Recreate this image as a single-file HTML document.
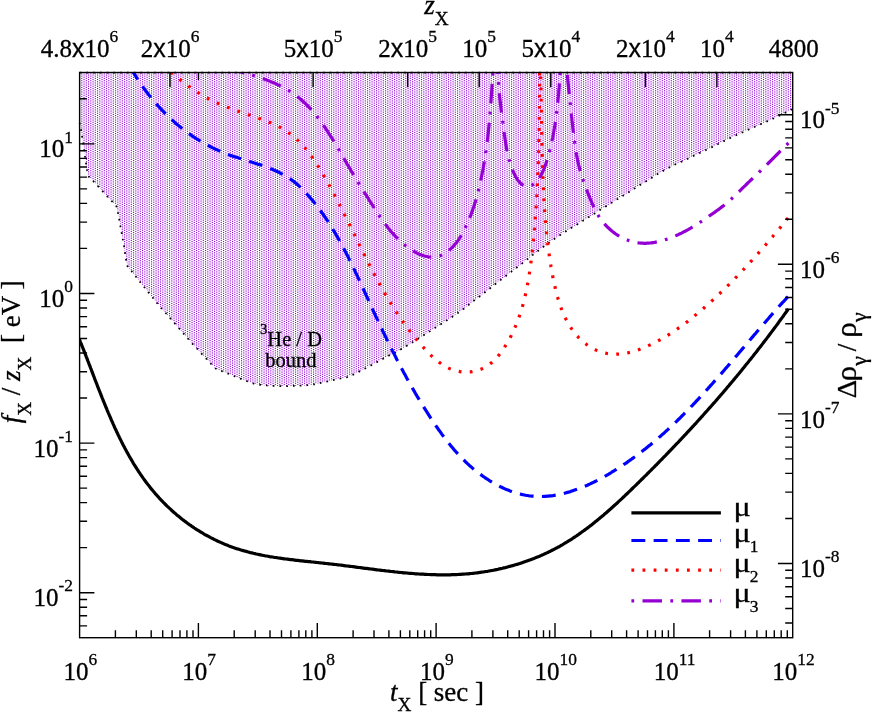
<!DOCTYPE html>
<html><head><meta charset="utf-8"><title>plot</title>
<style>html,body{margin:0;padding:0;background:#fff}svg{display:block;will-change:transform}text{font-family:"Liberation Serif",serif;fill:#000;stroke:#000;stroke-width:0.3px}.sa{font-family:"Liberation Sans",sans-serif}</style></head><body>
<svg width="872" height="714" viewBox="0 0 872 714">
<rect width="872" height="714" fill="#fff"/>
<defs><pattern id="pt" x="7" y="7" width="9" height="9" patternUnits="userSpaceOnUse">
<rect width="9" height="9" fill="#fff"/>
<rect x="0" y="0" width="1" height="1" fill="#9400d3"/>
<rect x="1" y="0" width="1" height="1" fill="#f2dffa"/>
<rect x="4" y="0" width="1" height="1" fill="#ca80e9"/>
<rect x="5" y="0" width="1" height="1" fill="#bc60e4"/>
<rect x="0" y="1" width="1" height="1" fill="#f2dffa"/>
<rect x="1" y="1" width="1" height="1" fill="#fdfbfe"/>
<rect x="2" y="1" width="1" height="1" fill="#b958e2"/>
<rect x="3" y="1" width="1" height="1" fill="#dcabf1"/>
<rect x="4" y="1" width="1" height="1" fill="#f8effc"/>
<rect x="5" y="1" width="1" height="1" fill="#f7ebfc"/>
<rect x="6" y="1" width="1" height="1" fill="#e8c7f5"/>
<rect x="7" y="1" width="1" height="1" fill="#ad3cdd"/>
<rect x="0" y="2" width="1" height="1" fill="#af40de"/>
<rect x="1" y="2" width="1" height="1" fill="#f5e7fb"/>
<rect x="2" y="2" width="1" height="1" fill="#ebcff7"/>
<rect x="3" y="2" width="1" height="1" fill="#f5e7fb"/>
<rect x="4" y="2" width="1" height="1" fill="#d79fee"/>
<rect x="5" y="2" width="1" height="1" fill="#cd87ea"/>
<rect x="6" y="2" width="1" height="1" fill="#f8effc"/>
<rect x="7" y="2" width="1" height="1" fill="#e8c7f5"/>
<rect x="0" y="3" width="1" height="1" fill="#d79fee"/>
<rect x="1" y="3" width="1" height="1" fill="#faf3fd"/>
<rect x="2" y="3" width="1" height="1" fill="#cd87ea"/>
<rect x="3" y="3" width="1" height="1" fill="#e6c3f5"/>
<rect x="4" y="3" width="1" height="1" fill="#ebcff7"/>
<rect x="5" y="3" width="1" height="1" fill="#e6c3f5"/>
<rect x="6" y="3" width="1" height="1" fill="#eed7f8"/>
<rect x="7" y="3" width="1" height="1" fill="#c474e7"/>
<rect x="0" y="4" width="1" height="1" fill="#ca80e9"/>
<rect x="1" y="4" width="1" height="1" fill="#f8effc"/>
<rect x="2" y="4" width="1" height="1" fill="#d79fee"/>
<rect x="3" y="4" width="1" height="1" fill="#ebcff7"/>
<rect x="4" y="4" width="1" height="1" fill="#e4bff4"/>
<rect x="5" y="4" width="1" height="1" fill="#deaff1"/>
<rect x="6" y="4" width="1" height="1" fill="#f2dffa"/>
<rect x="7" y="4" width="1" height="1" fill="#d08fec"/>
<rect x="0" y="5" width="1" height="1" fill="#bc60e4"/>
<rect x="1" y="5" width="1" height="1" fill="#f7ebfc"/>
<rect x="2" y="5" width="1" height="1" fill="#e1b7f3"/>
<rect x="3" y="5" width="1" height="1" fill="#f0dbf9"/>
<rect x="4" y="5" width="1" height="1" fill="#deaff1"/>
<rect x="5" y="5" width="1" height="1" fill="#d59bee"/>
<rect x="6" y="5" width="1" height="1" fill="#f5e7fb"/>
<rect x="7" y="5" width="1" height="1" fill="#dcabf1"/>
<rect x="0" y="6" width="1" height="1" fill="#e4bff4"/>
<rect x="1" y="6" width="1" height="1" fill="#fcf7fe"/>
<rect x="2" y="6" width="1" height="1" fill="#c370e6"/>
<rect x="3" y="6" width="1" height="1" fill="#e1b7f3"/>
<rect x="4" y="6" width="1" height="1" fill="#f2dffa"/>
<rect x="5" y="6" width="1" height="1" fill="#eed7f8"/>
<rect x="6" y="6" width="1" height="1" fill="#ebcff7"/>
<rect x="7" y="6" width="1" height="1" fill="#b958e2"/>
<rect x="0" y="7" width="1" height="1" fill="#a120d8"/>
<rect x="1" y="7" width="1" height="1" fill="#f3e3fa"/>
<rect x="2" y="7" width="1" height="1" fill="#f5e7fb"/>
<rect x="3" y="7" width="1" height="1" fill="#faf3fd"/>
<rect x="4" y="7" width="1" height="1" fill="#d08fec"/>
<rect x="5" y="7" width="1" height="1" fill="#c474e7"/>
<rect x="6" y="7" width="1" height="1" fill="#fcf7fe"/>
<rect x="7" y="7" width="1" height="1" fill="#f3e3fa"/>
<rect x="2" y="8" width="1" height="1" fill="#af40de"/>
<rect x="3" y="8" width="1" height="1" fill="#d79fee"/>
<rect x="6" y="8" width="1" height="1" fill="#e4bff4"/>
<rect x="7" y="8" width="1" height="1" fill="#a120d8"/>
</pattern>
<clipPath id="cp"><rect x="79.6" y="72.5" width="713.1" height="565.2"/></clipPath></defs>
<path d="M79.6,72.5 L79.6,123.0 L81.0,129.8 L82.1,136.7 L83.2,143.6 L84.2,150.3 L85.1,157.0 L86.1,163.8 L87.1,170.5 L89.0,176.8 L93.7,181.6 L98.1,186.3 L102.7,191.4 L107.3,196.4 L112.0,201.4 L116.4,206.2 L118.0,213.1 L119.3,219.7 L120.4,226.4 L121.7,233.0 L122.9,239.8 L124.1,246.3 L125.0,253.0 L126.1,259.8 L127.5,266.2 L131.8,271.5 L136.0,276.8 L140.1,282.0 L144.4,287.3 L148.6,292.6 L153.0,298.0 L157.1,303.1 L161.5,308.5 L166.1,313.5 L170.6,318.7 L175.0,323.7 L179.4,328.8 L183.8,333.8 L188.2,338.9 L192.6,343.9 L197.3,348.9 L202.0,354.2 L206.5,358.9 L211.1,363.9 L215.7,368.6 L222.0,371.2 L228.3,373.7 L234.6,376.3 L241.0,378.9 L247.3,381.3 L253.6,383.6 L260.1,384.8 L266.8,385.5 L273.8,385.8 L280.4,386.1 L287.3,386.1 L294.2,385.8 L300.9,385.7 L307.6,385.2 L314.3,384.3 L320.8,382.9 L327.5,381.5 L334.0,379.9 L340.7,378.5 L347.3,377.1 L353.6,374.4 L359.5,371.4 L365.6,368.2 L371.6,365.1 L377.5,361.8 L383.5,358.6 L389.5,355.2 L395.6,352.4 L401.4,349.0 L407.2,345.5 L412.9,342.0 L418.3,338.5 L424.0,335.0 L429.9,331.3 L435.3,327.7 L441.2,324.0 L447.0,320.3 L452.6,316.6 L458.2,312.8 L463.8,308.7 L469.0,304.6 L474.3,300.4 L479.8,296.3 L485.0,292.2 L490.4,288.0 L495.7,283.7 L501.1,279.6 L506.4,275.5 L511.8,271.4 L517.1,267.3 L522.5,263.1 L527.8,258.9 L533.2,254.6 L538.5,250.5 L543.9,246.4 L549.5,242.3 L554.9,238.5 L560.6,234.7 L566.2,231.2 L571.9,227.5 L577.8,224.0 L583.5,220.4 L589.3,216.8 L595.0,213.2 L600.7,209.5 L606.5,205.9 L612.1,202.4 L617.8,198.9 L623.4,195.5 L629.4,191.7 L635.0,188.2 L640.8,184.5 L646.5,181.0 L652.2,177.5 L658.1,173.8 L664.1,170.3 L670.1,167.1 L676.0,164.0 L682.1,161.4 L688.2,158.5 L694.3,155.5 L700.3,152.7 L706.4,149.8 L712.5,146.9 L718.6,143.8 L724.7,140.7 L730.7,137.8 L736.9,134.9 L743.0,132.2 L749.3,129.3 L755.3,126.5 L761.7,123.7 L767.6,121.1 L773.9,118.3 L779.8,115.4 L786.1,112.4 L791.6,109.5 L792.7,108.9 L792.7,72.5 Z" fill="url(#pt)"/>
<g fill="none" stroke="#000" stroke-width="1.75" stroke-dasharray="1.69 5.07">
<path d="M79.6,123.0 L81.0,129.8 L82.1,136.7 L83.2,143.6 L84.2,150.3 L85.1,157.0 L86.1,163.8 L87.1,170.5 L89.0,176.8 L93.7,181.6 L98.1,186.3 L102.7,191.4 L107.3,196.4 L112.0,201.4 L116.4,206.2 L118.0,213.1 L119.3,219.7 L120.4,226.4 L121.7,233.0 L122.9,239.8 L124.1,246.3 L125.0,253.0 L126.1,259.8 L127.5,266.2 L131.8,271.5 L136.0,276.8 L140.1,282.0 L144.4,287.3 L148.6,292.6 L153.0,298.0 L157.1,303.1 L161.5,308.5 L166.1,313.5 L170.6,318.7 L175.0,323.7 L179.4,328.8 L183.8,333.8 L188.2,338.9 L192.6,343.9 L197.3,348.9 L202.0,354.2 L206.5,358.9 L211.1,363.9 L215.7,368.6 L222.0,371.2 L228.3,373.7 L234.6,376.3 L241.0,378.9 L247.3,381.3 L253.6,383.6 L260.1,384.8 L266.8,385.5 L273.8,385.8 L280.4,386.1 L287.3,386.1 L294.2,385.8 L300.9,385.7 L307.6,385.2 L314.3,384.3 L320.8,382.9 L327.5,381.5 L334.0,379.9 L340.7,378.5 L347.3,377.1 L353.6,374.4 L359.5,371.4 L365.6,368.2 L371.6,365.1 L377.5,361.8 L383.5,358.6 L389.5,355.2 L395.6,352.4 L401.4,349.0 L407.2,345.5 L412.9,342.0 L418.3,338.5 L424.0,335.0 L429.9,331.3 L435.3,327.7 L441.2,324.0 L447.0,320.3 L452.6,316.6 L458.2,312.8 L463.8,308.7 L469.0,304.6 L474.3,300.4 L479.8,296.3 L485.0,292.2 L490.4,288.0 L495.7,283.7 L501.1,279.6 L506.4,275.5 L511.8,271.4 L517.1,267.3 L522.5,263.1 L527.8,258.9 L533.2,254.6 L538.5,250.5 L543.9,246.4 L549.5,242.3 L554.9,238.5 L560.6,234.7 L566.2,231.2 L571.9,227.5 L577.8,224.0 L583.5,220.4 L589.3,216.8 L595.0,213.2 L600.7,209.5 L606.5,205.9 L612.1,202.4 L617.8,198.9 L623.4,195.5 L629.4,191.7 L635.0,188.2 L640.8,184.5 L646.5,181.0 L652.2,177.5 L658.1,173.8 L664.1,170.3 L670.1,167.1 L676.0,164.0 L682.1,161.4 L688.2,158.5 L694.3,155.5 L700.3,152.7 L706.4,149.8 L712.5,146.9 L718.6,143.8 L724.7,140.7 L730.7,137.8 L736.9,134.9 L743.0,132.2 L749.3,129.3 L755.3,126.5 L761.7,123.7 L767.6,121.1 L773.9,118.3 L779.8,115.4 L786.1,112.4 L791.6,109.5 L792.7,108.9" stroke-dashoffset="0.36"/>
<path d="M79.6,72.5H792.7" stroke-dashoffset="0"/>
</g>
<g clip-path="url(#cp)" fill="none" stroke-width="3.20" stroke-linejoin="round">
<path d="M79.2,339.0 79.8,340.4 80.3,341.8 80.9,343.1 81.4,344.5 82.0,345.9 82.6,347.3 83.1,348.7 83.7,350.1 84.2,351.5 84.8,352.9 85.3,354.3 85.9,355.7 86.4,357.1 87.0,358.5 87.5,359.9 88.0,361.3 88.6,362.7 89.1,364.1 89.7,365.5 90.2,366.9 90.7,368.3 91.3,369.7 91.8,371.1 92.3,372.5 92.9,373.9 93.4,375.4 94.0,376.8 94.5,378.2 95.0,379.6 95.6,381.0 96.1,382.4 96.7,383.8 97.2,385.2 97.7,386.6 98.3,388.0 98.8,389.4 99.4,390.8 99.9,392.2 100.5,393.6 101.0,395.0 101.6,396.4 102.1,397.8 102.7,399.2 103.2,400.5 103.8,401.9 104.4,403.3 104.9,404.7 105.5,406.1 106.1,407.5 106.7,408.9 107.2,410.3 107.8,411.7 108.4,413.1 109.0,414.4 109.6,415.8 110.2,417.2 110.8,418.6 111.4,420.0 112.0,421.3 112.6,422.7 113.2,424.1 113.8,425.4 114.4,426.8 115.0,428.2 115.7,429.5 116.3,430.9 116.9,432.3 117.6,433.6 118.2,435.0 118.9,436.3 119.5,437.7 120.2,439.0 120.9,440.4 121.5,441.7 122.2,443.1 122.9,444.4 123.6,445.7 124.3,447.1 125.0,448.4 125.7,449.7 126.4,451.0 127.1,452.4 127.9,453.7 128.6,455.0 129.3,456.3 130.1,457.6 130.8,458.9 131.6,460.2 132.4,461.5 133.1,462.8 133.9,464.1 134.7,465.3 135.5,466.6 136.3,467.9 137.1,469.2 137.9,470.4 138.7,471.7 139.6,472.9 140.4,474.2 141.3,475.4 142.1,476.6 143.0,477.9 143.9,479.1 144.7,480.3 145.6,481.5 146.5,482.7 147.4,483.9 148.3,485.1 149.3,486.3 150.2,487.5 151.1,488.7 152.1,489.8 153.1,491.0 154.0,492.1 155.0,493.3 156.0,494.4 157.0,495.5 158.0,496.6 159.0,497.8 160.0,498.9 161.0,500.0 162.1,501.0 163.1,502.1 164.2,503.2 165.2,504.3 166.3,505.3 167.4,506.4 168.5,507.4 169.6,508.4 170.7,509.4 171.8,510.5 172.9,511.5 174.0,512.5 175.2,513.4 176.3,514.4 177.5,515.4 178.6,516.3 179.8,517.3 180.9,518.2 182.1,519.2 183.3,520.1 184.5,521.0 185.7,521.9 186.9,522.8 188.1,523.7 189.3,524.6 190.6,525.4 191.8,526.3 193.1,527.1 194.3,528.0 195.6,528.8 196.8,529.6 198.1,530.4 199.4,531.2 200.6,532.0 201.9,532.7 203.2,533.5 204.5,534.3 205.8,535.0 207.2,535.7 208.5,536.4 209.8,537.2 211.1,537.9 212.5,538.5 213.8,539.2 215.2,539.9 216.5,540.5 217.9,541.2 219.2,541.8 220.6,542.4 222.0,543.0 223.4,543.6 224.7,544.2 226.1,544.8 227.5,545.3 228.9,545.9 230.3,546.4 231.7,546.9 233.2,547.4 234.6,547.9 236.0,548.4 237.4,548.9 238.9,549.3 240.3,549.8 241.7,550.2 243.2,550.6 244.6,551.0 246.1,551.4 247.5,551.8 249.0,552.2 250.4,552.6 251.9,552.9 253.4,553.3 254.8,553.6 256.3,554.0 257.7,554.3 259.2,554.6 260.7,554.9 262.2,555.2 263.6,555.5 265.1,555.8 266.6,556.0 268.1,556.3 269.6,556.6 271.0,556.8 272.5,557.0 274.0,557.3 275.5,557.5 277.0,557.7 278.5,558.0 279.9,558.2 281.4,558.4 282.9,558.6 284.4,558.8 285.9,559.0 287.4,559.2 288.9,559.4 290.4,559.6 291.9,559.7 293.4,559.9 294.8,560.1 296.3,560.3 297.8,560.4 299.3,560.6 300.8,560.8 302.3,560.9 303.8,561.1 305.3,561.3 306.8,561.4 308.3,561.6 309.8,561.7 311.3,561.9 312.8,562.0 314.3,562.2 315.8,562.3 317.2,562.5 318.7,562.7 320.2,562.8 321.7,563.0 323.2,563.1 324.7,563.3 326.2,563.5 327.7,563.6 329.2,563.8 330.7,564.0 332.2,564.1 333.7,564.3 335.2,564.5 336.7,564.7 338.2,564.8 339.6,565.0 341.1,565.2 342.6,565.4 344.1,565.6 345.6,565.8 347.1,566.0 348.6,566.1 350.1,566.3 351.6,566.5 353.1,566.7 354.6,566.9 356.0,567.1 357.5,567.3 359.0,567.5 360.5,567.7 362.0,567.9 363.5,568.1 365.0,568.3 366.5,568.4 368.0,568.6 369.5,568.8 370.9,569.0 372.4,569.2 373.9,569.4 375.4,569.6 376.9,569.8 378.4,570.0 379.9,570.1 381.4,570.3 382.9,570.5 384.4,570.7 385.9,570.9 387.3,571.0 388.8,571.2 390.3,571.4 391.8,571.5 393.3,571.7 394.8,571.9 396.3,572.0 397.8,572.2 399.3,572.3 400.8,572.5 402.3,572.6 403.8,572.8 405.3,572.9 406.8,573.0 408.3,573.2 409.8,573.3 411.3,573.4 412.8,573.5 414.3,573.7 415.8,573.8 417.3,573.9 418.8,574.0 420.3,574.1 421.8,574.2 423.3,574.2 424.8,574.3 426.3,574.4 427.8,574.5 429.3,574.5 430.8,574.6 432.3,574.6 433.8,574.7 435.3,574.7 436.8,574.8 438.3,574.8 439.8,574.8 441.3,574.8 442.8,574.8 444.3,574.8 445.8,574.8 447.3,574.8 448.8,574.8 450.3,574.8 451.8,574.7 453.3,574.7 454.8,574.6 456.3,574.6 457.8,574.5 459.3,574.4 460.8,574.3 462.3,574.2 463.8,574.1 465.3,574.0 466.8,573.9 468.3,573.8 469.8,573.6 471.3,573.5 472.8,573.3 474.3,573.2 475.8,573.0 477.3,572.8 478.7,572.6 480.2,572.4 481.7,572.2 483.2,572.0 484.7,571.7 486.2,571.5 487.7,571.3 489.1,571.0 490.6,570.7 492.1,570.5 493.6,570.2 495.0,569.9 496.5,569.6 498.0,569.3 499.4,568.9 500.9,568.6 502.4,568.3 503.8,567.9 505.3,567.6 506.8,567.2 508.2,566.8 509.7,566.4 511.1,566.0 512.6,565.6 514.0,565.2 515.4,564.8 516.9,564.4 518.3,563.9 519.8,563.5 521.2,563.0 522.6,562.6 524.0,562.1 525.5,561.6 526.9,561.1 528.3,560.6 529.7,560.1 531.1,559.5 532.5,559.0 533.9,558.5 535.3,557.9 536.7,557.3 538.1,556.8 539.5,556.2 540.8,555.6 542.2,555.0 543.6,554.4 545.0,553.7 546.3,553.1 547.7,552.5 549.0,551.8 550.4,551.2 551.7,550.5 553.1,549.8 554.4,549.1 555.7,548.4 557.1,547.7 558.4,547.0 559.7,546.3 561.0,545.5 562.3,544.8 563.6,544.0 564.9,543.2 566.2,542.5 567.5,541.7 568.7,540.9 570.0,540.1 571.3,539.3 572.5,538.5 573.8,537.6 575.0,536.8 576.3,536.0 577.5,535.1 578.8,534.3 580.0,533.4 581.2,532.5 582.4,531.7 583.7,530.8 584.9,529.9 586.1,529.0 587.3,528.1 588.5,527.2 589.7,526.3 590.9,525.4 592.1,524.4 593.2,523.5 594.4,522.6 595.6,521.6 596.7,520.7 597.9,519.7 599.1,518.8 600.2,517.8 601.4,516.9 602.5,515.9 603.7,514.9 604.8,513.9 606.0,513.0 607.1,512.0 608.2,511.0 609.3,510.0 610.5,509.0 611.6,508.0 612.7,507.0 613.8,506.0 614.9,505.0 616.1,504.0 617.2,503.0 618.3,501.9 619.4,500.9 620.5,499.9 621.6,498.9 622.7,497.8 623.8,496.8 624.8,495.8 625.9,494.7 627.0,493.7 628.1,492.7 629.2,491.6 630.3,490.6 631.4,489.5 632.4,488.5 633.5,487.4 634.6,486.4 635.7,485.3 636.7,484.3 637.8,483.2 638.9,482.2 640.0,481.1 641.0,480.1 642.1,479.0 643.2,478.0 644.2,476.9 645.3,475.9 646.4,474.8 647.4,473.7 648.5,472.7 649.5,471.6 650.6,470.6 651.7,469.5 652.7,468.4 653.8,467.4 654.8,466.3 655.9,465.2 657.0,464.2 658.0,463.1 659.1,462.0 660.1,460.9 661.2,459.9 662.2,458.8 663.3,457.7 664.3,456.6 665.4,455.6 666.4,454.5 667.5,453.4 668.5,452.3 669.5,451.2 670.6,450.2 671.6,449.1 672.7,448.0 673.7,446.9 674.7,445.8 675.8,444.7 676.8,443.6 677.9,442.6 678.9,441.5 679.9,440.4 680.9,439.3 682.0,438.2 683.0,437.1 684.0,436.0 685.1,434.9 686.1,433.8 687.1,432.7 688.1,431.6 689.2,430.5 690.2,429.4 691.2,428.3 692.2,427.2 693.2,426.1 694.2,425.0 695.3,423.9 696.3,422.8 697.3,421.6 698.3,420.5 699.3,419.4 700.3,418.3 701.3,417.2 702.3,416.1 703.3,415.0 704.3,413.8 705.3,412.7 706.3,411.6 707.3,410.5 708.3,409.3 709.3,408.2 710.3,407.1 711.3,406.0 712.3,404.8 713.3,403.7 714.3,402.6 715.3,401.5 716.3,400.3 717.3,399.2 718.2,398.1 719.2,396.9 720.2,395.8 721.2,394.6 722.2,393.5 723.1,392.4 724.1,391.2 725.1,390.1 726.1,388.9 727.0,387.8 728.0,386.6 729.0,385.5 729.9,384.3 730.9,383.2 731.9,382.0 732.8,380.9 733.8,379.7 734.8,378.6 735.7,377.4 736.7,376.3 737.6,375.1 738.6,374.0 739.6,372.8 740.5,371.6 741.5,370.5 742.4,369.3 743.4,368.1 744.3,367.0 745.2,365.8 746.2,364.6 747.1,363.5 748.1,362.3 749.0,361.1 749.9,359.9 750.9,358.8 751.8,357.6 752.8,356.4 753.7,355.2 754.6,354.1 755.5,352.9 756.5,351.7 757.4,350.5 758.3,349.3 759.2,348.1 760.2,347.0 761.1,345.8 762.0,344.6 762.9,343.4 763.8,342.2 764.7,341.0 765.7,339.8 766.6,338.6 767.5,337.4 768.4,336.2 769.3,335.0 770.2,333.8 771.1,332.6 772.0,331.4 772.9,330.2 773.8,329.0 774.7,327.8 775.6,326.6 776.5,325.4 777.4,324.2 778.3,323.0 779.1,321.7 780.0,320.5 780.9,319.3 781.8,318.1 782.7,316.9 783.6,315.7 784.4,314.4 785.3,313.2 786.2,312.0 787.1,310.8 787.9,309.6 788.4,308.9" stroke="#000"/>
<path d="M128.1,63.0 128.8,64.3 129.5,65.6 130.2,67.0 131.0,68.3 131.7,69.6 132.5,70.9 133.3,72.2 134.0,73.5 134.8,74.7 135.6,76.0 136.4,77.3 137.2,78.6 138.0,79.8 138.9,81.1 139.7,82.3 140.5,83.6 141.4,84.8 142.3,86.0 143.1,87.3 144.0,88.5 144.9,89.7 145.8,90.9 146.7,92.1 147.6,93.3 148.5,94.5 149.5,95.7 150.4,96.9 151.3,98.0 152.3,99.2 153.3,100.3 154.2,101.5 155.2,102.6 156.2,103.8 157.2,104.9 158.2,106.0 159.2,107.1 160.2,108.2 161.3,109.3 162.3,110.4 163.3,111.5 164.4,112.6 165.4,113.7 166.5,114.7 167.6,115.8 168.7,116.8 169.8,117.9 170.9,118.9 172.0,119.9 173.1,120.9 174.2,121.9 175.3,122.9 176.5,123.9 177.6,124.8 178.8,125.8 180.0,126.8 181.1,127.7 182.3,128.6 183.5,129.6 184.7,130.5 185.9,131.4 187.1,132.3 188.3,133.2 189.5,134.0 190.8,134.9 192.0,135.8 193.2,136.6 194.5,137.4 195.8,138.3 197.0,139.1 198.3,139.9 199.6,140.7 200.9,141.4 202.2,142.2 203.5,143.0 204.8,143.7 206.1,144.4 207.4,145.1 208.8,145.8 210.1,146.5 211.4,147.2 212.8,147.9 214.1,148.5 215.5,149.2 216.9,149.8 218.2,150.4 219.6,151.0 221.0,151.6 222.4,152.2 223.8,152.8 225.2,153.3 226.6,153.8 228.0,154.4 229.4,154.9 230.8,155.4 232.2,155.9 233.7,156.4 235.1,156.9 236.5,157.3 238.0,157.8 239.4,158.3 240.8,158.7 242.3,159.2 243.7,159.6 245.1,160.1 246.6,160.5 248.0,161.0 249.4,161.4 250.9,161.9 252.3,162.3 253.7,162.8 255.2,163.2 256.6,163.7 258.0,164.2 259.5,164.6 260.9,165.1 262.3,165.6 263.7,166.1 265.1,166.6 266.6,167.1 268.0,167.7 269.4,168.2 270.8,168.8 272.2,169.3 273.5,169.9 274.9,170.5 276.3,171.1 277.7,171.8 279.0,172.4 280.4,173.1 281.7,173.8 283.0,174.5 284.3,175.2 285.6,176.0 286.9,176.7 288.2,177.5 289.5,178.4 290.7,179.2 291.9,180.1 293.1,181.0 294.3,181.9 295.5,182.9 296.6,183.9 297.8,184.8 298.9,185.9 300.0,186.9 301.1,187.9 302.1,189.0 303.2,190.1 304.2,191.1 305.3,192.2 306.3,193.3 307.3,194.5 308.3,195.6 309.3,196.7 310.3,197.8 311.2,199.0 312.2,200.1 313.2,201.3 314.1,202.5 315.1,203.6 316.0,204.8 316.9,206.0 317.8,207.2 318.7,208.4 319.6,209.6 320.5,210.8 321.4,212.0 322.3,213.3 323.2,214.5 324.0,215.7 324.9,217.0 325.7,218.2 326.6,219.4 327.4,220.7 328.2,222.0 329.0,223.2 329.9,224.5 330.7,225.8 331.5,227.0 332.3,228.3 333.0,229.6 333.8,230.9 334.6,232.2 335.4,233.5 336.1,234.8 336.9,236.1 337.6,237.4 338.4,238.7 339.1,240.0 339.8,241.3 340.6,242.6 341.3,243.9 342.0,245.3 342.7,246.6 343.4,247.9 344.1,249.2 344.8,250.6 345.5,251.9 346.2,253.3 346.9,254.6 347.6,255.9 348.3,257.3 348.9,258.6 349.6,260.0 350.3,261.3 350.9,262.7 351.6,264.0 352.3,265.4 352.9,266.7 353.6,268.1 354.2,269.4 354.9,270.8 355.5,272.1 356.1,273.5 356.8,274.9 357.4,276.2 358.1,277.6 358.7,279.0 359.3,280.3 360.0,281.7 360.6,283.1 361.2,284.4 361.9,285.8 362.5,287.2 363.1,288.5 363.7,289.9 364.4,291.3 365.0,292.6 365.6,294.0 366.2,295.4 366.9,296.7 367.5,298.1 368.1,299.5 368.7,300.8 369.4,302.2 370.0,303.6 370.6,304.9 371.2,306.3 371.9,307.7 372.5,309.1 373.1,310.4 373.7,311.8 374.4,313.1 375.0,314.5 375.6,315.9 376.3,317.2 376.9,318.6 377.6,320.0 378.2,321.3 378.8,322.7 379.5,324.1 380.1,325.4 380.8,326.8 381.4,328.1 382.1,329.5 382.7,330.8 383.3,332.2 384.0,333.6 384.7,334.9 385.3,336.3 386.0,337.6 386.6,339.0 387.3,340.3 387.9,341.7 388.6,343.0 389.3,344.4 389.9,345.7 390.6,347.1 391.3,348.4 392.0,349.8 392.6,351.1 393.3,352.5 394.0,353.8 394.7,355.1 395.4,356.5 396.0,357.8 396.7,359.2 397.4,360.5 398.1,361.8 398.8,363.2 399.5,364.5 400.2,365.8 400.9,367.2 401.6,368.5 402.3,369.8 403.0,371.1 403.7,372.5 404.5,373.8 405.2,375.1 405.9,376.4 406.6,377.8 407.3,379.1 408.1,380.4 408.8,381.7 409.5,383.0 410.3,384.3 411.0,385.6 411.8,386.9 412.5,388.2 413.3,389.6 414.0,390.9 414.8,392.2 415.5,393.5 416.3,394.8 417.0,396.1 417.8,397.3 418.6,398.6 419.4,399.9 420.1,401.2 420.9,402.5 421.7,403.8 422.5,405.1 423.3,406.3 424.1,407.6 424.9,408.9 425.7,410.2 426.5,411.4 427.3,412.7 428.1,414.0 428.9,415.2 429.7,416.5 430.6,417.8 431.4,419.0 432.2,420.3 433.0,421.5 433.9,422.8 434.7,424.0 435.6,425.3 436.4,426.5 437.3,427.7 438.1,429.0 439.0,430.2 439.9,431.4 440.8,432.7 441.6,433.9 442.5,435.1 443.4,436.3 444.3,437.5 445.2,438.7 446.2,439.9 447.1,441.1 448.0,442.3 448.9,443.4 449.9,444.6 450.8,445.8 451.8,446.9 452.8,448.1 453.7,449.2 454.7,450.4 455.7,451.5 456.7,452.6 457.7,453.7 458.8,454.8 459.8,455.9 460.8,457.0 461.9,458.1 462.9,459.2 464.0,460.2 465.1,461.3 466.1,462.3 467.2,463.4 468.3,464.4 469.4,465.4 470.6,466.4 471.7,467.4 472.8,468.4 474.0,469.4 475.2,470.3 476.3,471.3 477.5,472.2 478.7,473.1 479.9,474.0 481.1,474.9 482.3,475.8 483.5,476.7 484.8,477.5 486.0,478.4 487.3,479.2 488.6,480.0 489.8,480.8 491.1,481.6 492.4,482.4 493.7,483.1 495.0,483.9 496.3,484.6 497.7,485.3 499.0,486.0 500.3,486.7 501.7,487.3 503.1,488.0 504.4,488.6 505.8,489.2 507.2,489.8 508.6,490.3 510.0,490.9 511.4,491.4 512.8,491.9 514.2,492.4 515.7,492.8 517.1,493.3 518.6,493.7 520.0,494.0 521.5,494.4 523.0,494.7 524.4,495.0 525.9,495.3 527.4,495.5 528.9,495.8 530.4,496.0 531.9,496.1 533.4,496.2 534.9,496.3 536.4,496.4 537.9,496.5 539.4,496.5 540.9,496.5 542.4,496.5 543.9,496.4 545.4,496.3 546.9,496.2 548.4,496.1 549.9,495.9 551.4,495.8 552.9,495.6 554.4,495.3 555.8,495.1 557.3,494.8 558.8,494.5 560.3,494.2 561.7,493.9 563.2,493.6 564.7,493.2 566.1,492.8 567.6,492.4 569.0,492.0 570.5,491.6 571.9,491.1 573.3,490.6 574.7,490.1 576.2,489.6 577.6,489.1 579.0,488.6 580.4,488.1 581.8,487.5 583.2,486.9 584.6,486.4 586.0,485.8 587.3,485.2 588.7,484.5 590.1,483.9 591.4,483.3 592.8,482.6 594.1,482.0 595.5,481.3 596.8,480.6 598.2,479.9 599.5,479.2 600.8,478.5 602.1,477.8 603.5,477.1 604.8,476.3 606.1,475.6 607.4,474.8 608.7,474.1 610.0,473.3 611.3,472.5 612.5,471.7 613.8,471.0 615.1,470.2 616.4,469.4 617.7,468.6 618.9,467.7 620.2,466.9 621.4,466.1 622.7,465.3 623.9,464.4 625.2,463.6 626.4,462.8 627.7,461.9 628.9,461.0 630.1,460.2 631.4,459.3 632.6,458.4 633.8,457.5 635.0,456.7 636.2,455.8 637.4,454.9 638.6,454.0 639.8,453.1 641.0,452.1 642.2,451.2 643.4,450.3 644.6,449.4 645.8,448.4 647.0,447.5 648.1,446.6 649.3,445.6 650.5,444.7 651.6,443.7 652.8,442.7 653.9,441.8 655.1,440.8 656.2,439.8 657.4,438.8 658.5,437.9 659.6,436.9 660.8,435.9 661.9,434.9 663.0,433.9 664.2,432.9 665.3,431.9 666.4,430.9 667.5,429.9 668.6,428.8 669.7,427.8 670.8,426.8 671.9,425.8 673.0,424.7 674.1,423.7 675.2,422.6 676.3,421.6 677.3,420.6 678.4,419.5 679.5,418.5 680.6,417.4 681.6,416.3 682.7,415.3 683.8,414.2 684.8,413.1 685.9,412.1 686.9,411.0 688.0,409.9 689.0,408.9 690.1,407.8 691.1,406.7 692.2,405.6 693.2,404.5 694.3,403.4 695.3,402.3 696.3,401.2 697.3,400.1 698.4,399.0 699.4,397.9 700.4,396.8 701.4,395.7 702.5,394.6 703.5,393.5 704.5,392.4 705.5,391.3 706.5,390.2 707.5,389.1 708.5,387.9 709.5,386.8 710.5,385.7 711.5,384.6 712.5,383.5 713.5,382.3 714.5,381.2 715.5,380.1 716.5,379.0 717.5,377.8 718.5,376.7 719.5,375.6 720.5,374.4 721.5,373.3 722.5,372.2 723.5,371.0 724.4,369.9 725.4,368.7 726.4,367.6 727.4,366.5 728.4,365.3 729.4,364.2 730.3,363.0 731.3,361.9 732.3,360.8 733.3,359.6 734.2,358.5 735.2,357.3 736.2,356.2 737.2,355.0 738.1,353.9 739.1,352.7 740.1,351.6 741.1,350.4 742.0,349.3 743.0,348.2 744.0,347.0 745.0,345.9 745.9,344.7 746.9,343.6 747.9,342.4 748.9,341.3 749.8,340.1 750.8,339.0 751.8,337.8 752.8,336.7 753.7,335.5 754.7,334.4 755.7,333.3 756.7,332.1 757.6,331.0 758.6,329.8 759.6,328.7 760.6,327.5 761.6,326.4 762.5,325.3 763.5,324.1 764.5,323.0 765.5,321.9 766.5,320.7 767.5,319.6 768.5,318.4 769.4,317.3 770.4,316.2 771.4,315.0 772.4,313.9 773.4,312.8 774.4,311.7 775.4,310.5 776.4,309.4 777.4,308.3 778.4,307.2 779.4,306.0 780.4,304.9 781.4,303.8 782.4,302.7 783.5,301.6 784.5,300.5 785.5,299.4 786.5,298.2 787.5,297.1 788.4,296.2" stroke="#00f" stroke-dasharray="13.88 8.33" stroke-dashoffset="17.01"/>
<path d="M164.0,66.5 165.2,67.4 166.3,68.4 167.5,69.4 168.6,70.3 169.8,71.3 170.9,72.3 172.1,73.2 173.3,74.2 174.4,75.1 175.6,76.1 176.8,77.0 177.9,78.0 179.1,78.9 180.3,79.8 181.5,80.8 182.7,81.7 183.9,82.6 185.1,83.5 186.3,84.4 187.5,85.3 188.7,86.2 189.9,87.1 191.1,87.9 192.4,88.8 193.6,89.6 194.9,90.5 196.1,91.3 197.4,92.1 198.6,93.0 199.9,93.8 201.2,94.5 202.5,95.3 203.8,96.1 205.1,96.8 206.4,97.6 207.7,98.3 209.0,99.0 210.4,99.7 211.7,100.4 213.1,101.0 214.4,101.7 215.8,102.3 217.1,102.9 218.5,103.6 219.9,104.2 221.3,104.8 222.7,105.3 224.1,105.9 225.5,106.5 226.9,107.0 228.3,107.6 229.7,108.1 231.1,108.6 232.5,109.1 233.9,109.7 235.3,110.2 236.7,110.7 238.2,111.2 239.6,111.7 241.0,112.2 242.4,112.6 243.8,113.1 245.3,113.6 246.7,114.1 248.1,114.6 249.5,115.0 251.0,115.5 252.4,116.0 253.8,116.5 255.3,117.0 256.7,117.4 258.1,117.9 259.5,118.4 260.9,118.9 262.3,119.5 263.8,120.0 265.2,120.5 266.6,121.1 268.0,121.6 269.3,122.2 270.7,122.8 272.1,123.4 273.5,124.0 274.8,124.7 276.2,125.3 277.5,126.0 278.9,126.7 280.2,127.4 281.5,128.2 282.8,128.9 284.1,129.7 285.3,130.5 286.6,131.4 287.8,132.2 289.0,133.1 290.2,134.0 291.4,134.9 292.6,135.9 293.8,136.8 294.9,137.8 296.0,138.8 297.2,139.8 298.2,140.8 299.3,141.9 300.4,143.0 301.4,144.0 302.4,145.1 303.5,146.3 304.5,147.4 305.4,148.5 306.4,149.7 307.3,150.9 308.3,152.0 309.2,153.2 310.1,154.4 311.0,155.6 311.9,156.9 312.7,158.1 313.6,159.3 314.4,160.6 315.3,161.8 316.1,163.1 316.9,164.3 317.7,165.6 318.5,166.9 319.3,168.2 320.1,169.4 320.9,170.7 321.6,172.0 322.4,173.3 323.2,174.6 323.9,175.9 324.7,177.2 325.4,178.5 326.2,179.8 326.9,181.1 327.6,182.4 328.4,183.8 329.1,185.1 329.8,186.4 330.6,187.7 331.3,189.0 332.0,190.4 332.7,191.7 333.4,193.0 334.1,194.3 334.8,195.7 335.5,197.0 336.2,198.3 336.9,199.7 337.6,201.0 338.3,202.3 339.0,203.7 339.7,205.0 340.4,206.4 341.0,207.7 341.7,209.0 342.4,210.4 343.1,211.7 343.7,213.1 344.4,214.4 345.1,215.8 345.8,217.1 346.4,218.5 347.1,219.8 347.8,221.1 348.4,222.5 349.1,223.8 349.8,225.2 350.4,226.5 351.1,227.9 351.7,229.2 352.4,230.6 353.1,231.9 353.7,233.3 354.4,234.6 355.1,236.0 355.7,237.4 356.4,238.7 357.0,240.1 357.7,241.4 358.4,242.8 359.0,244.1 359.7,245.5 360.4,246.8 361.0,248.2 361.7,249.5 362.4,250.8 363.0,252.2 363.7,253.5 364.4,254.9 365.0,256.2 365.7,257.6 366.4,258.9 367.1,260.3 367.8,261.6 368.4,262.9 369.1,264.3 369.8,265.6 370.5,267.0 371.2,268.3 371.9,269.6 372.6,271.0 373.3,272.3 374.0,273.6 374.7,275.0 375.4,276.3 376.1,277.6 376.8,278.9 377.5,280.3 378.2,281.6 379.0,282.9 379.7,284.2 380.4,285.5 381.1,286.8 381.9,288.2 382.6,289.5 383.4,290.8 384.1,292.1 384.9,293.4 385.6,294.7 386.4,296.0 387.2,297.3 387.9,298.6 388.7,299.9 389.5,301.1 390.3,302.4 391.1,303.7 391.8,305.0 392.6,306.3 393.4,307.5 394.3,308.8 395.1,310.1 395.9,311.3 396.7,312.6 397.5,313.8 398.4,315.1 399.2,316.3 400.1,317.6 400.9,318.8 401.8,320.1 402.6,321.3 403.5,322.5 404.4,323.7 405.3,325.0 406.2,326.2 407.0,327.4 407.9,328.6 408.9,329.8 409.8,331.0 410.7,332.2 411.6,333.4 412.5,334.5 413.5,335.7 414.4,336.9 415.4,338.1 416.3,339.2 417.3,340.4 418.3,341.5 419.2,342.7 420.2,343.8 421.2,344.9 422.2,346.1 423.2,347.2 424.2,348.3 425.2,349.4 426.3,350.5 427.3,351.6 428.3,352.7 429.4,353.8 430.5,354.8 431.5,355.9 432.6,356.9 433.8,357.9 434.9,358.9 436.0,359.9 437.2,360.8 438.4,361.7 439.6,362.7 440.8,363.5 442.0,364.4 443.3,365.2 444.6,366.0 445.9,366.7 447.2,367.4 448.6,368.1 450.0,368.7 451.4,369.2 452.8,369.7 454.2,370.2 455.6,370.6 457.1,371.0 458.6,371.3 460.1,371.6 461.5,371.8 463.0,372.0 464.5,372.1 466.0,372.1 467.6,372.1 469.1,372.0 470.6,371.9 472.0,371.7 473.5,371.4 475.0,371.1 476.5,370.7 477.9,370.3 479.3,369.8 480.7,369.3 482.1,368.7 483.5,368.0 484.8,367.3 486.1,366.6 487.4,365.8 488.6,364.9 489.8,364.0 491.0,363.1 492.2,362.2 493.3,361.1 494.4,360.1 495.4,359.0 496.5,357.9 497.5,356.8 498.4,355.7 499.4,354.5 500.3,353.3 501.2,352.1 502.1,350.9 502.9,349.6 503.8,348.4 504.6,347.1 505.4,345.8 506.2,344.6 506.9,343.3 507.7,342.0 508.4,340.7 509.2,339.4 509.9,338.0 510.6,336.7 511.3,335.4 511.9,334.0 512.6,332.7 513.2,331.3 513.9,329.9 514.5,328.6 515.1,327.2 515.7,325.8 516.3,324.4 516.8,323.0 517.4,321.6 517.9,320.2 518.4,318.8 518.9,317.4 519.4,316.0 519.9,314.5 520.4,313.1 520.8,311.7 521.3,310.2 521.7,308.8 522.2,307.4 522.6,305.9 523.0,304.5 523.4,303.0 523.8,301.6 524.1,300.1 524.5,298.7 524.9,297.2 525.2,295.7 525.5,294.3 525.9,292.8 526.2,291.3 526.5,289.9 526.8,288.4 527.1,286.9 527.4,285.4 527.6,283.9 527.9,282.5 528.2,281.0 528.4,279.5 528.7,278.0 528.9,276.5 529.2,275.0 529.4,273.6 529.6,272.1 529.8,270.6 530.1,269.1 530.3,267.6 530.5,266.1 530.7,264.6 530.9,263.1 531.0,261.6 531.2,260.2 531.4,258.7 531.6,257.2 531.8,255.7 531.9,254.2 532.1,252.7 532.3,251.2 532.4,249.7 532.6,248.2 532.8,246.7 532.9,245.2 533.1,243.7 533.2,242.2 533.4,240.7 533.5,239.2 533.7,237.7 533.8,236.2 533.9,234.7 534.1,233.2 534.2,231.7 534.3,230.2 534.5,228.7 534.6,227.2 534.7,225.7 534.8,224.2 535.0,222.7 535.1,221.2 535.2,219.7 535.3,218.2 535.4,216.7 535.5,215.2 535.7,213.7 535.8,212.2 535.9,210.7 536.0,209.2 536.1,207.7 536.2,206.2 536.3,204.7 536.4,203.2 536.4,201.7 536.5,200.2 536.6,198.7 536.7,197.2 536.8,195.7 536.9,194.2 537.0,192.7 537.0,191.2 537.1,189.7 537.2,188.2 537.3,186.7 537.3,185.2 537.4,183.7 537.5,182.2 537.6,180.7 537.6,179.2 537.7,177.7 537.7,176.2 537.8,174.7 537.9,173.2 537.9,171.7 538.0,170.2 538.0,168.7 538.1,167.2 538.2,165.7 538.2,164.2 538.3,162.7 538.3,161.2 538.3,159.7 538.4,158.2 538.4,156.7 538.5,155.1 538.5,153.6 538.6,152.1 538.6,150.6 538.6,149.1 538.7,147.6 538.7,146.1 538.8,144.6 538.8,143.1 538.8,141.6 538.9,140.1 538.9,138.6 538.9,137.1 539.0,135.6 539.0,134.1 539.0,132.6 539.0,131.1 539.1,129.6 539.1,128.1 539.1,126.6 539.1,125.1 539.2,123.6 539.2,122.1 539.2,120.6 539.2,119.1 539.2,117.6 539.3,116.0 539.3,114.5 539.3,113.0 539.3,111.5 539.3,110.0 539.4,108.5 539.4,107.0 539.4,105.5 539.4,104.0 539.4,102.5 539.4,101.0 539.4,99.5 539.5,98.0 539.5,96.5 539.5,95.0 539.5,93.5 539.5,92.0 539.5,90.5 539.5,89.0 539.5,87.5 539.5,86.0 539.6,84.5 539.6,83.0 539.6,81.5 539.6,79.9 539.6,78.4 539.6,76.9 539.6,75.4 539.6,73.9 539.6,72.4 539.6,70.9 539.7,69.4 539.7,67.9 539.7,66.4 539.7,64.9 539.7,63.4 539.7,61.9" stroke="#f00" stroke-dasharray="2.77 8.31" stroke-dashoffset="2.15"/>
<path d="M540.3,66.8 540.3,68.3 540.4,69.8 540.4,71.3 540.5,72.8 540.5,74.3 540.6,75.8 540.6,77.3 540.7,78.8 540.7,80.4 540.7,81.9 540.8,83.4 540.8,84.9 540.8,86.4 540.9,87.9 540.9,89.4 541.0,90.9 541.0,92.4 541.0,93.9 541.1,95.4 541.1,96.9 541.1,98.4 541.1,99.9 541.2,101.4 541.2,102.9 541.2,104.5 541.3,106.0 541.3,107.5 541.3,109.0 541.3,110.5 541.4,112.0 541.4,113.5 541.4,115.0 541.5,116.5 541.5,118.0 541.5,119.5 541.5,121.0 541.6,122.5 541.6,124.0 541.6,125.5 541.6,127.0 541.7,128.6 541.7,130.1 541.7,131.6 541.7,133.1 541.8,134.6 541.8,136.1 541.8,137.6 541.9,139.1 541.9,140.6 541.9,142.1 541.9,143.6 542.0,145.1 542.0,146.6 542.0,148.1 542.1,149.6 542.1,151.2 542.2,152.7 542.2,154.2 542.2,155.7 542.3,157.2 542.3,158.7 542.3,160.2 542.4,161.7 542.4,163.2 542.5,164.7 542.5,166.2 542.6,167.7 542.6,169.2 542.7,170.7 542.7,172.2 542.8,173.7 542.8,175.2 542.9,176.8 542.9,178.3 543.0,179.8 543.1,181.3 543.1,182.8 543.2,184.3 543.2,185.8 543.3,187.3 543.4,188.8 543.5,190.3 543.5,191.8 543.6,193.3 543.7,194.8 543.8,196.3 543.8,197.8 543.9,199.3 544.0,200.8 544.1,202.3 544.2,203.8 544.3,205.3 544.4,206.8 544.5,208.3 544.6,209.9 544.7,211.4 544.8,212.9 544.9,214.4 545.0,215.9 545.1,217.4 545.3,218.9 545.4,220.4 545.5,221.9 545.6,223.4 545.8,224.9 545.9,226.4 546.0,227.9 546.2,229.4 546.3,230.9 546.5,232.4 546.6,233.9 546.8,235.4 546.9,236.9 547.1,238.4 547.3,239.9 547.4,241.4 547.6,242.9 547.8,244.4 548.0,245.8 548.2,247.3 548.4,248.8 548.6,250.3 548.8,251.8 549.0,253.3 549.2,254.8 549.4,256.3 549.6,257.8 549.8,259.3 550.1,260.8 550.3,262.3 550.5,263.7 550.8,265.2 551.0,266.7 551.3,268.2 551.5,269.7 551.8,271.2 552.1,272.7 552.4,274.1 552.6,275.6 552.9,277.1 553.2,278.6 553.5,280.0 553.8,281.5 554.1,283.0 554.4,284.5 554.8,285.9 555.1,287.4 555.4,288.9 555.8,290.3 556.1,291.8 556.5,293.3 556.9,294.7 557.3,296.2 557.7,297.6 558.1,299.1 558.6,300.5 559.0,302.0 559.5,303.4 560.0,304.8 560.4,306.2 561.0,307.7 561.5,309.1 562.0,310.5 562.6,311.9 563.2,313.3 563.8,314.6 564.4,316.0 565.0,317.4 565.7,318.7 566.4,320.1 567.1,321.4 567.8,322.7 568.6,324.0 569.3,325.3 570.1,326.6 571.0,327.9 571.8,329.1 572.7,330.3 573.6,331.6 574.5,332.7 575.4,333.9 576.4,335.1 577.4,336.2 578.4,337.3 579.5,338.4 580.5,339.4 581.6,340.5 582.8,341.5 583.9,342.5 585.1,343.4 586.3,344.3 587.5,345.2 588.7,346.1 590.0,346.9 591.3,347.7 592.6,348.4 593.9,349.1 595.3,349.8 596.7,350.4 598.1,351.0 599.5,351.5 600.9,352.0 602.3,352.4 603.8,352.8 605.3,353.1 606.7,353.4 608.2,353.6 609.7,353.8 611.2,354.0 612.7,354.1 614.2,354.2 615.7,354.2 617.2,354.1 618.8,354.1 620.3,354.0 621.8,353.8 623.2,353.6 624.7,353.4 626.2,353.2 627.7,352.9 629.2,352.5 630.6,352.2 632.1,351.8 633.5,351.4 635.0,351.0 636.4,350.5 637.8,350.0 639.3,349.5 640.7,349.0 642.1,348.4 643.5,347.9 644.9,347.3 646.2,346.7 647.6,346.1 649.0,345.4 650.4,344.8 651.7,344.2 653.1,343.5 654.4,342.8 655.8,342.1 657.1,341.4 658.4,340.7 659.7,340.0 661.1,339.3 662.4,338.5 663.7,337.8 665.0,337.0 666.3,336.2 667.5,335.4 668.8,334.6 670.1,333.8 671.4,333.0 672.6,332.2 673.9,331.3 675.1,330.5 676.4,329.7 677.6,328.8 678.8,327.9 680.1,327.1 681.3,326.2 682.5,325.3 683.7,324.4 684.9,323.5 686.1,322.6 687.3,321.7 688.5,320.7 689.7,319.8 690.9,318.9 692.0,317.9 693.2,317.0 694.4,316.0 695.5,315.1 696.7,314.1 697.9,313.1 699.0,312.2 700.2,311.2 701.3,310.2 702.4,309.2 703.6,308.2 704.7,307.2 705.8,306.2 707.0,305.2 708.1,304.2 709.2,303.2 710.3,302.2 711.4,301.2 712.6,300.2 713.7,299.2 714.8,298.1 715.9,297.1 717.0,296.1 718.1,295.1 719.2,294.0 720.3,293.0 721.3,291.9 722.4,290.9 723.5,289.8 724.6,288.8 725.7,287.7 726.7,286.7 727.8,285.6 728.9,284.6 729.9,283.5 731.0,282.4 732.1,281.4 733.1,280.3 734.2,279.2 735.2,278.1 736.3,277.1 737.3,276.0 738.4,274.9 739.4,273.8 740.5,272.7 741.5,271.6 742.5,270.5 743.6,269.4 744.6,268.3 745.6,267.2 746.6,266.1 747.7,265.0 748.7,263.9 749.7,262.8 750.7,261.7 751.7,260.6 752.7,259.4 753.8,258.3 754.8,257.2 755.8,256.1 756.8,255.0 757.8,253.8 758.8,252.7 759.8,251.6 760.8,250.4 761.8,249.3 762.7,248.2 763.7,247.0 764.7,245.9 765.7,244.8 766.7,243.6 767.7,242.5 768.7,241.3 769.6,240.2 770.6,239.0 771.6,237.9 772.6,236.7 773.5,235.6 774.5,234.4 775.5,233.3 776.4,232.1 777.4,231.0 778.4,229.8 779.3,228.7 780.3,227.5 781.3,226.3 782.2,225.2 783.2,224.0 784.1,222.8 785.1,221.7 786.0,220.5 787.0,219.3 787.9,218.2 788.4,217.6" stroke="#f00" stroke-dasharray="2.77 8.31" stroke-dashoffset="1.28"/>
<path d="M228.0,67.9 229.4,68.4 230.9,68.9 232.3,69.4 233.7,69.8 235.2,70.3 236.6,70.7 238.1,71.2 239.5,71.6 240.9,72.0 242.4,72.5 243.8,72.9 245.3,73.3 246.7,73.7 248.2,74.1 249.6,74.6 251.1,75.0 252.5,75.4 254.0,75.8 255.4,76.3 256.8,76.7 258.3,77.2 259.7,77.6 261.1,78.1 262.6,78.6 264.0,79.0 265.4,79.5 266.8,80.0 268.2,80.6 269.6,81.1 271.0,81.7 272.4,82.2 273.8,82.8 275.2,83.4 276.6,84.1 277.9,84.7 279.3,85.3 280.6,86.0 282.0,86.7 283.3,87.4 284.6,88.2 285.9,88.9 287.2,89.7 288.5,90.4 289.8,91.2 291.1,92.1 292.3,92.9 293.5,93.8 294.8,94.6 296.0,95.5 297.2,96.4 298.4,97.4 299.5,98.3 300.7,99.3 301.8,100.3 302.9,101.3 304.0,102.3 305.1,103.3 306.2,104.4 307.3,105.5 308.3,106.5 309.4,107.6 310.4,108.7 311.4,109.9 312.4,111.0 313.4,112.1 314.4,113.3 315.3,114.4 316.3,115.6 317.2,116.8 318.1,118.0 319.0,119.2 319.9,120.4 320.8,121.6 321.7,122.8 322.6,124.0 323.5,125.3 324.3,126.5 325.2,127.8 326.0,129.0 326.8,130.3 327.7,131.5 328.5,132.8 329.3,134.1 330.1,135.3 330.9,136.6 331.7,137.9 332.5,139.2 333.3,140.4 334.1,141.7 334.8,143.0 335.6,144.3 336.4,145.6 337.2,146.9 337.9,148.2 338.7,149.5 339.5,150.8 340.2,152.1 341.0,153.4 341.7,154.7 342.5,156.0 343.2,157.3 344.0,158.6 344.8,159.9 345.5,161.2 346.3,162.5 347.0,163.8 347.8,165.1 348.6,166.4 349.3,167.7 350.1,169.0 350.8,170.3 351.6,171.6 352.4,172.9 353.2,174.2 353.9,175.5 354.7,176.8 355.5,178.0 356.3,179.3 357.1,180.6 357.9,181.9 358.6,183.2 359.4,184.5 360.2,185.7 361.0,187.0 361.8,188.3 362.6,189.6 363.4,190.8 364.2,192.1 365.0,193.4 365.8,194.7 366.6,195.9 367.4,197.2 368.2,198.5 369.0,199.8 369.8,201.0 370.6,202.3 371.5,203.6 372.3,204.9 373.1,206.1 373.9,207.4 374.7,208.7 375.5,209.9 376.3,211.2 377.1,212.5 378.0,213.7 378.8,215.0 379.6,216.2 380.5,217.5 381.3,218.7 382.2,219.9 383.1,221.2 384.0,222.4 384.8,223.6 385.7,224.8 386.7,226.0 387.6,227.2 388.5,228.4 389.5,229.6 390.4,230.7 391.4,231.9 392.4,233.0 393.4,234.1 394.4,235.2 395.4,236.3 396.5,237.4 397.6,238.5 398.6,239.5 399.7,240.6 400.8,241.6 402.0,242.6 403.1,243.6 404.2,244.5 405.4,245.5 406.6,246.4 407.8,247.3 409.0,248.2 410.3,249.1 411.5,249.9 412.8,250.7 414.1,251.5 415.4,252.2 416.7,252.9 418.1,253.6 419.4,254.2 420.8,254.8 422.2,255.3 423.7,255.8 425.1,256.2 426.6,256.5 428.1,256.8 429.6,257.0 431.1,257.1 432.6,257.1 434.1,257.0 435.6,256.9 437.1,256.6 438.5,256.2 440.0,255.7 441.3,255.2 442.7,254.5 444.0,253.8 445.3,253.0 446.6,252.2 447.8,251.3 449.0,250.4 450.1,249.4 451.2,248.4 452.3,247.3 453.4,246.2 454.4,245.1 455.3,244.0 456.3,242.8 457.2,241.6 458.1,240.4 458.9,239.1 459.7,237.9 460.5,236.6 461.2,235.3 462.0,234.0 462.7,232.6 463.4,231.3 464.1,230.0 464.8,228.6 465.5,227.3 466.1,225.9 466.8,224.6 467.4,223.2 468.0,221.8 468.6,220.5 469.2,219.1 469.8,217.7 470.3,216.3 470.9,214.9 471.4,213.5 471.9,212.0 472.4,210.6 472.9,209.2 473.4,207.8 473.9,206.3 474.4,204.9 474.8,203.5 475.3,202.0 475.7,200.6 476.1,199.2 476.5,197.7 476.9,196.3 477.3,194.8 477.7,193.3 478.1,191.9 478.4,190.4 478.8,189.0 479.2,187.5 479.5,186.0 479.8,184.6 480.2,183.1 480.5,181.6 480.8,180.2 481.1,178.7 481.4,177.2 481.7,175.7 482.0,174.3 482.3,172.8 482.6,171.3 482.9,169.8 483.2,168.3 483.4,166.9 483.7,165.4 484.0,163.9 484.2,162.4 484.4,160.9 484.7,159.4 484.9,157.9 485.2,156.5 485.4,155.0 485.6,153.5 485.8,152.0 486.0,150.5 486.2,149.0 486.4,147.5 486.6,146.0 486.8,144.5 487.0,143.0 487.2,141.5 487.4,140.0 487.6,138.5 487.8,137.1 487.9,135.6 488.1,134.1 488.3,132.6 488.4,131.1 488.6,129.6 488.7,128.1 488.9,126.6 489.0,125.1 489.2,123.6 489.3,122.1 489.5,120.6 489.6,119.1 489.7,117.6 489.9,116.1 490.0,114.6 490.1,113.1 490.2,111.6 490.3,110.1 490.5,108.6 490.6,107.1 490.7,105.6 490.8,104.1 490.9,102.6 491.0,101.1 491.1,99.6 491.2,98.1 491.3,96.6 491.4,95.1 491.5,93.5 491.6,92.0 491.7,90.5 491.8,89.0 491.9,87.5 492.0,86.0 492.1,84.5 492.2,83.0 492.3,81.5 492.4,80.0 492.5,78.5 492.6,77.0 492.7,75.5 492.8,74.0 492.9,72.5 493.0,71.0 493.0,69.5 493.1,68.0 493.2,66.5 493.3,65.0 493.4,63.5 493.5,62.0" stroke="#9400d3" stroke-dasharray="2.78 8.34 19.47 8.34" stroke-dashoffset="13.60"/>
<path d="M497.4,62.1 497.5,63.6 497.5,65.1 497.6,66.6 497.6,68.1 497.7,69.6 497.7,71.1 497.8,72.7 497.9,74.2 498.0,75.7 498.0,77.2 498.1,78.7 498.2,80.2 498.4,81.7 498.5,83.2 498.6,84.8 498.7,86.3 498.8,87.8 499.0,89.3 499.1,90.8 499.2,92.3 499.4,93.8 499.5,95.3 499.7,96.8 499.8,98.3 500.0,99.8 500.2,101.3 500.3,102.8 500.5,104.3 500.7,105.8 500.9,107.4 501.0,108.9 501.2,110.4 501.4,111.9 501.6,113.4 501.8,114.9 502.0,116.4 502.2,117.9 502.4,119.4 502.6,120.9 502.8,122.4 503.0,123.9 503.2,125.4 503.4,126.9 503.6,128.4 503.8,129.9 504.0,131.4 504.2,132.9 504.4,134.4 504.6,135.9 504.8,137.4 505.0,138.9 505.2,140.4 505.5,141.9 505.7,143.4 505.9,144.9 506.2,146.4 506.4,147.9 506.7,149.3 507.0,150.8 507.3,152.3 507.6,153.8 508.0,155.3 508.3,156.7 508.7,158.2 509.1,159.7 509.5,161.1 510.0,162.6 510.4,164.0 510.9,165.5 511.4,166.9 511.9,168.3 512.5,169.7 513.0,171.1 513.6,172.5 514.3,173.9 514.9,175.3 515.6,176.6 516.4,177.9 517.2,179.2 518.1,180.4 519.0,181.6 520.0,182.7 521.2,183.7 522.4,184.6 523.7,185.4 525.1,185.9 526.6,186.3 528.1,186.4 529.6,186.1 531.0,185.7 532.4,185.0 533.6,184.1 534.8,183.2 535.9,182.1 536.9,181.0 537.9,179.8 538.8,178.6 539.6,177.3 540.4,176.1 541.2,174.8 541.9,173.4 542.6,172.1 543.2,170.7 543.8,169.3 544.4,167.9 544.9,166.5 545.4,165.1 545.9,163.6 546.4,162.2 546.8,160.7 547.3,159.3 547.7,157.8 548.1,156.4 548.6,154.9 549.0,153.5 549.4,152.0 549.7,150.5 550.1,149.1 550.5,147.6 550.8,146.1 551.2,144.6 551.5,143.2 551.8,141.7 552.1,140.2 552.5,138.7 552.8,137.2 553.0,135.8 553.3,134.3 553.6,132.8 553.9,131.3 554.1,129.8 554.4,128.3 554.6,126.8 554.9,125.3 555.1,123.8 555.3,122.3 555.5,120.8 555.7,119.3 555.9,117.8 556.1,116.3 556.3,114.8 556.5,113.3 556.7,111.8 556.9,110.3 557.1,108.8 557.2,107.3 557.4,105.8 557.5,104.3 557.7,102.8 557.9,101.3 558.0,99.8 558.1,98.3 558.3,96.7 558.4,95.2 558.6,93.7 558.7,92.2 558.8,90.7 558.9,89.2 559.1,87.7 559.2,86.2 559.3,84.7 559.4,83.2 559.6,81.7 559.7,80.1 559.8,78.6 559.9,77.1 560.0,75.6 560.1,74.1 560.2,72.6 560.4,71.1 560.5,69.6 560.6,68.1 560.7,66.6 560.8,65.0 561.0,63.5 561.1,62.0" stroke="#9400d3" stroke-dasharray="2.78 8.33 19.45 8.33" stroke-dashoffset="18.75"/>
<path d="M566.0,62.0 566.1,63.5 566.3,65.0 566.4,66.5 566.6,68.0 566.7,69.5 566.9,71.0 567.0,72.5 567.2,74.0 567.3,75.5 567.5,77.0 567.6,78.5 567.8,80.0 567.9,81.5 568.1,83.0 568.2,84.5 568.4,86.0 568.5,87.5 568.7,89.0 568.8,90.5 569.0,92.0 569.2,93.5 569.3,95.0 569.5,96.5 569.6,98.0 569.8,99.5 569.9,101.0 570.1,102.5 570.3,104.0 570.4,105.5 570.6,107.0 570.7,108.5 570.9,110.0 571.1,111.4 571.2,112.9 571.4,114.4 571.5,115.9 571.7,117.4 571.9,118.9 572.0,120.4 572.2,121.9 572.4,123.4 572.5,124.9 572.7,126.4 572.8,127.9 573.0,129.4 573.2,130.9 573.4,132.4 573.5,133.9 573.7,135.4 573.9,136.9 574.1,138.4 574.3,139.9 574.5,141.4 574.7,142.9 574.9,144.4 575.1,145.9 575.3,147.4 575.5,148.8 575.8,150.3 576.0,151.8 576.3,153.3 576.5,154.8 576.8,156.3 577.1,157.7 577.4,159.2 577.7,160.7 578.0,162.2 578.4,163.6 578.7,165.1 579.1,166.6 579.4,168.0 579.8,169.5 580.2,170.9 580.6,172.4 581.1,173.8 581.5,175.3 582.0,176.7 582.4,178.1 582.9,179.6 583.4,181.0 583.9,182.4 584.4,183.8 584.9,185.3 585.4,186.7 586.0,188.1 586.5,189.5 587.1,190.9 587.6,192.3 588.2,193.7 588.7,195.1 589.3,196.5 589.9,197.9 590.4,199.3 591.0,200.7 591.6,202.1 592.2,203.4 592.8,204.8 593.4,206.2 594.0,207.6 594.7,208.9 595.3,210.3 596.0,211.6 596.7,212.9 597.5,214.3 598.3,215.5 599.1,216.8 599.9,218.1 600.8,219.3 601.7,220.5 602.6,221.7 603.6,222.9 604.6,224.0 605.6,225.1 606.6,226.2 607.7,227.3 608.8,228.3 609.9,229.3 611.0,230.3 612.2,231.3 613.4,232.2 614.6,233.1 615.8,234.0 617.1,234.8 618.3,235.6 619.6,236.4 620.9,237.1 622.3,237.8 623.6,238.5 625.0,239.1 626.4,239.7 627.8,240.2 629.2,240.7 630.6,241.2 632.1,241.6 633.5,242.0 635.0,242.3 636.5,242.6 638.0,242.8 639.5,243.0 641.0,243.1 642.5,243.2 644.0,243.3 645.5,243.3 647.0,243.2 648.5,243.1 650.0,243.0 651.5,242.8 653.0,242.6 654.5,242.4 656.0,242.1 657.5,241.8 658.9,241.5 660.4,241.1 661.8,240.7 663.3,240.3 664.7,239.9 666.2,239.4 667.6,239.0 669.0,238.4 670.4,237.9 671.8,237.4 673.2,236.8 674.6,236.2 676.0,235.6 677.4,235.0 678.7,234.4 680.1,233.7 681.5,233.1 682.8,232.4 684.1,231.7 685.5,231.0 686.8,230.3 688.1,229.6 689.4,228.8 690.7,228.1 692.0,227.3 693.3,226.6 694.6,225.8 695.9,225.0 697.2,224.2 698.4,223.4 699.7,222.5 701.0,221.7 702.2,220.9 703.5,220.0 704.7,219.2 705.9,218.3 707.2,217.4 708.4,216.6 709.6,215.7 710.9,214.9 712.1,214.0 713.4,213.1 714.6,212.3 715.8,211.4 717.0,210.5 718.3,209.6 719.5,208.7 720.7,207.8 721.9,206.9 723.1,206.0 724.3,205.1 725.4,204.1 726.6,203.2 727.7,202.2 728.9,201.2 730.0,200.2 731.1,199.2 732.2,198.2 733.3,197.1 734.4,196.1 735.5,195.1 736.6,194.0 737.7,193.0 738.8,191.9 739.8,190.9 740.9,189.8 742.0,188.7 743.0,187.7 744.1,186.6 745.2,185.6 746.3,184.5 747.3,183.5 748.4,182.4 749.5,181.4 750.6,180.3 751.7,179.3 752.8,178.2 753.9,177.2 755.0,176.2 756.1,175.1 757.2,174.1 758.2,173.1 759.3,172.0 760.4,171.0 761.5,169.9 762.6,168.9 763.7,167.8 764.7,166.8 765.8,165.7 766.9,164.6 767.9,163.6 769.0,162.5 770.1,161.5 771.1,160.4 772.2,159.3 773.3,158.3 774.3,157.2 775.4,156.1 776.5,155.0 777.5,154.0 778.6,152.9 779.6,151.8 780.7,150.8 781.8,149.7 782.8,148.6 783.9,147.6 784.9,146.5 786.0,145.4 787.1,144.4 788.1,143.3 788.4,143.0" stroke="#9400d3" stroke-dasharray="2.78 8.34 19.47 8.34" stroke-dashoffset="37.22"/>
</g>
<g stroke="#000" stroke-width="1.40" fill="none" stroke-linecap="butt">
<rect x="79.6" y="72.5" width="713.1" height="565.2"/>
<path d="M115.4,637.7L115.4,630.2 M136.3,637.7L136.3,630.2 M151.2,637.7L151.2,630.2 M162.7,637.7L162.7,630.2 M172.1,637.7L172.1,630.2 M180.0,637.7L180.0,630.2 M186.9,637.7L186.9,630.2 M193.0,637.7L193.0,630.2 M198.4,637.7L198.4,622.9 M234.2,637.7L234.2,630.2 M255.2,637.7L255.2,630.2 M270.0,637.7L270.0,630.2 M281.5,637.7L281.5,630.2 M290.9,637.7L290.9,630.2 M298.9,637.7L298.9,630.2 M305.8,637.7L305.8,630.2 M311.9,637.7L311.9,630.2 M317.3,637.7L317.3,622.9 M353.1,637.7L353.1,630.2 M374.0,637.7L374.0,630.2 M388.9,637.7L388.9,630.2 M400.4,637.7L400.4,630.2 M409.8,637.7L409.8,630.2 M417.7,637.7L417.7,630.2 M424.6,637.7L424.6,630.2 M430.7,637.7L430.7,630.2 M436.1,637.7L436.1,622.9 M471.9,637.7L471.9,630.2 M492.9,637.7L492.9,630.2 M507.7,637.7L507.7,630.2 M519.2,637.7L519.2,630.2 M528.6,637.7L528.6,630.2 M536.6,637.7L536.6,630.2 M543.5,637.7L543.5,630.2 M549.6,637.7L549.6,630.2 M555.0,637.7L555.0,622.9 M590.8,637.7L590.8,630.2 M611.7,637.7L611.7,630.2 M626.6,637.7L626.6,630.2 M638.1,637.7L638.1,630.2 M647.5,637.7L647.5,630.2 M655.4,637.7L655.4,630.2 M662.3,637.7L662.3,630.2 M668.4,637.7L668.4,630.2 M673.9,637.7L673.9,622.9 M709.6,637.7L709.6,630.2 M730.6,637.7L730.6,630.2 M745.4,637.7L745.4,630.2 M756.9,637.7L756.9,630.2 M766.3,637.7L766.3,630.2 M774.3,637.7L774.3,630.2 M781.2,637.7L781.2,630.2 M787.3,637.7L787.3,630.2 M170.0,72.5L170.0,87.3 M313.1,72.5L313.1,87.3 M407.7,72.5L407.7,87.3 M479.2,72.5L479.2,87.3 M550.8,72.5L550.8,87.3 M645.4,72.5L645.4,87.3 M716.9,72.5L716.9,87.3 M198.4,72.5L198.4,80.0 M79.6,625.9L87.1,625.9 M79.6,615.8L87.1,615.8 M79.6,607.2L87.1,607.2 M79.6,599.5L87.1,599.5 M79.6,592.7L94.4,592.7 M79.6,547.6L87.1,547.6 M79.6,521.3L87.1,521.3 M79.6,502.6L87.1,502.6 M79.6,488.1L87.1,488.1 M79.6,476.3L87.1,476.3 M79.6,466.2L87.1,466.2 M79.6,457.6L87.1,457.6 M79.6,449.9L87.1,449.9 M79.6,443.1L94.4,443.1 M79.6,398.0L87.1,398.0 M79.6,371.7L87.1,371.7 M79.6,353.0L87.1,353.0 M79.6,338.5L87.1,338.5 M79.6,326.7L87.1,326.7 M79.6,316.6L87.1,316.6 M79.6,308.0L87.1,308.0 M79.6,300.3L87.1,300.3 M79.6,293.5L94.4,293.5 M79.6,248.4L87.1,248.4 M79.6,222.1L87.1,222.1 M79.6,203.4L87.1,203.4 M79.6,188.9L87.1,188.9 M79.6,177.1L87.1,177.1 M79.6,167.0L87.1,167.0 M79.6,158.4L87.1,158.4 M79.6,150.7L87.1,150.7 M79.6,143.9L94.4,143.9 M79.6,98.8L87.1,98.8 M792.7,623.0L785.2,623.0 M792.7,608.5L785.2,608.5 M792.7,596.7L785.2,596.7 M792.7,586.7L785.2,586.7 M792.7,578.0L785.2,578.0 M792.7,570.3L785.2,570.3 M792.7,563.5L777.9,563.5 M792.7,518.5L785.2,518.5 M792.7,492.1L785.2,492.1 M792.7,473.4L785.2,473.4 M792.7,458.9L785.2,458.9 M792.7,447.1L785.2,447.1 M792.7,437.1L785.2,437.1 M792.7,428.4L785.2,428.4 M792.7,420.7L785.2,420.7 M792.7,413.9L777.9,413.9 M792.7,368.9L785.2,368.9 M792.7,342.5L785.2,342.5 M792.7,323.8L785.2,323.8 M792.7,309.3L785.2,309.3 M792.7,297.5L785.2,297.5 M792.7,287.5L785.2,287.5 M792.7,278.8L785.2,278.8 M792.7,271.1L785.2,271.1 M792.7,264.3L777.9,264.3 M792.7,219.3L785.2,219.3 M792.7,192.9L785.2,192.9 M792.7,174.2L785.2,174.2 M792.7,159.7L785.2,159.7 M792.7,147.9L785.2,147.9 M792.7,137.9L785.2,137.9 M792.7,129.2L785.2,129.2 M792.7,121.5L785.2,121.5 M792.7,114.7L777.9,114.7"/>
</g>
<g fill="none" stroke-width="3.20">
<path d="M631.4,512.8H720.9" stroke="#000"/>
<path d="M631.4,540.5H720.9" stroke="#00f" stroke-dasharray="13.90 8.34"/>
<path d="M631.4,570.2H720.9" stroke="#f00" stroke-dasharray="2.78 8.34"/>
<path d="M631.4,600.9H720.9" stroke="#9400d3" stroke-dasharray="2.78 8.34 19.46 8.34"/>
</g>
<text transform="translate(733.60,516.44) scale(1.215,1)" font-size="26.45">μ</text>
<text transform="translate(733.60,541.64) scale(1.215,1)" font-size="26.45">μ</text>
<text x="749.8" y="551.7" font-size="17.4">1</text>
<text transform="translate(733.60,571.94) scale(1.215,1)" font-size="26.45">μ</text>
<text x="749.8" y="582.0" font-size="17.4">2</text>
<text transform="translate(733.60,601.94) scale(1.215,1)" font-size="26.45">μ</text>
<text x="749.8" y="612.0" font-size="17.4">3</text>
<text x="80.3" y="680.0" font-size="25.0" text-anchor="middle">10<tspan font-size="17.4" dy="-14.8">6</tspan></text>
<text x="199.1" y="680.0" font-size="25.0" text-anchor="middle">10<tspan font-size="17.4" dy="-14.8">7</tspan></text>
<text x="318.0" y="680.0" font-size="25.0" text-anchor="middle">10<tspan font-size="17.4" dy="-14.8">8</tspan></text>
<text x="436.8" y="680.0" font-size="25.0" text-anchor="middle">10<tspan font-size="17.4" dy="-14.8">9</tspan></text>
<text x="555.7" y="680.0" font-size="25.0" text-anchor="middle">10<tspan font-size="17.4" dy="-14.8">10</tspan></text>
<text x="674.6" y="680.0" font-size="25.0" text-anchor="middle">10<tspan font-size="17.4" dy="-14.8">11</tspan></text>
<text x="793.4" y="680.0" font-size="25.0" text-anchor="middle">10<tspan font-size="17.4" dy="-14.8">12</tspan></text>
<text x="79.6" y="57.2" font-size="25.0" text-anchor="middle">4.8<tspan class="sa">x</tspan>10<tspan font-size="17.4" dy="-14.8">6</tspan></text>
<text x="170.0" y="57.2" font-size="25.0" text-anchor="middle">2<tspan class="sa">x</tspan>10<tspan font-size="17.4" dy="-14.8">6</tspan></text>
<text x="313.1" y="57.2" font-size="25.0" text-anchor="middle">5<tspan class="sa">x</tspan>10<tspan font-size="17.4" dy="-14.8">5</tspan></text>
<text x="407.7" y="57.2" font-size="25.0" text-anchor="middle">2<tspan class="sa">x</tspan>10<tspan font-size="17.4" dy="-14.8">5</tspan></text>
<text x="479.2" y="57.2" font-size="25.0" text-anchor="middle">10<tspan font-size="17.4" dy="-14.8">5</tspan></text>
<text x="550.8" y="57.2" font-size="25.0" text-anchor="middle">5<tspan class="sa">x</tspan>10<tspan font-size="17.4" dy="-14.8">4</tspan></text>
<text x="645.4" y="57.2" font-size="25.0" text-anchor="middle">2<tspan class="sa">x</tspan>10<tspan font-size="17.4" dy="-14.8">4</tspan></text>
<text x="716.9" y="57.2" font-size="25.0" text-anchor="middle">10<tspan font-size="17.4" dy="-14.8">4</tspan></text>
<text x="793.7" y="57.2" font-size="25.0" text-anchor="middle">4800</text>
<text x="73.0" y="157.4" font-size="25.0" text-anchor="end">10<tspan font-size="17.4" dy="-14.8">1</tspan></text>
<text x="73.0" y="307.0" font-size="25.0" text-anchor="end">10<tspan font-size="17.4" dy="-14.8">0</tspan></text>
<text x="73.0" y="456.6" font-size="25.0" text-anchor="end">10<tspan font-size="17.4" dy="-14.8">-1</tspan></text>
<text x="73.0" y="606.2" font-size="25.0" text-anchor="end">10<tspan font-size="17.4" dy="-14.8">-2</tspan></text>
<text x="800.0" y="128.4" font-size="25.0" text-anchor="start">10<tspan font-size="17.4" dy="-14.8">-5</tspan></text>
<text x="800.0" y="278.0" font-size="25.0" text-anchor="start">10<tspan font-size="17.4" dy="-14.8">-6</tspan></text>
<text x="800.0" y="427.6" font-size="25.0" text-anchor="start">10<tspan font-size="17.4" dy="-14.8">-7</tspan></text>
<text x="800.0" y="577.2" font-size="25.0" text-anchor="start">10<tspan font-size="17.4" dy="-14.8">-8</tspan></text>
<text x="390.0" y="700.8" font-size="27.0"><tspan font-style="italic">t</tspan><tspan font-size="19.2" dy="10.4">X</tspan><tspan dy="-10.4"> [ sec ]</tspan></text>
<text x="424.2" y="13.9" font-size="27.0"><tspan font-style="italic">z</tspan><tspan font-size="19.2" dy="10.9">X</tspan></text>
<text transform="translate(20.3,423.3) rotate(-90)" font-size="27.0"><tspan font-style="italic">f</tspan><tspan font-size="19.2" dy="10.5">X</tspan><tspan dy="-10.5"> / </tspan><tspan font-style="italic">z</tspan><tspan font-size="19.2" dy="10.5">X</tspan><tspan dy="-10.5" dx="6.75"> [ eV ]</tspan></text>
<g transform="translate(855.5,397.2) rotate(-90)">
<text transform="translate(-0.93,0.00) scale(1.016,1)" font-size="28.18">Δ</text>
<text transform="translate(15.70,0.05) scale(1.081,1)" font-size="28.89">ρ</text>
<text transform="translate(31.42,10.59) scale(1.059,1)" font-size="20.68">γ</text>
<text x="45.95" y="0" font-size="27.0">/</text>
<text transform="translate(59.40,0.05) scale(1.081,1)" font-size="28.89">ρ</text>
<text transform="translate(75.12,10.59) scale(1.059,1)" font-size="20.68">γ</text>
</g>
<text x="260.0" y="345.8" font-size="20.5"><tspan font-size="14.7" dy="-12.2">3</tspan><tspan dy="12.2">He / D</tspan></text>
<text x="265.3" y="367.0" font-size="20.5">bound</text>
</svg></body></html>
